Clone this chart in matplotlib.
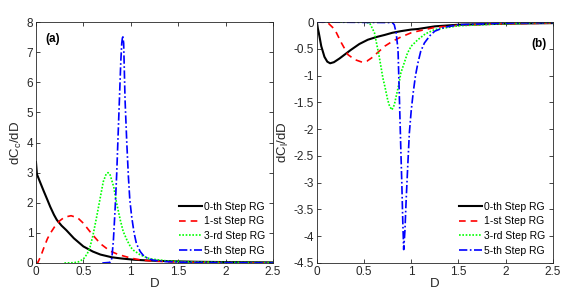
import numpy as np
import matplotlib.pyplot as plt

plt.rcParams["font.family"] = ["Liberation Sans", "DejaVu Sans"]
plt.rcParams["mathtext.default"] = "regular"

# ---- panel (a): dCc/dD ----
d0_a = [0, 0.01, 0.035, 0.08, 0.12, 0.15, 0.19, 0.22, 0.27, 0.32, 0.4, 0.5, 0.6,
        0.68, 0.8, 0.9, 1.03, 1.2, 1.4, 1.7, 2.0, 2.5]
c0_a = [3.35, 2.95, 2.75, 2.4, 2.1, 1.87, 1.6, 1.43, 1.24, 1.09, 0.82, 0.55, 0.38,
        0.28, 0.19, 0.15, 0.11, 0.08, 0.06, 0.04, 0.03, 0.02]

d1_a = [0, 0.02, 0.05, 0.08, 0.12, 0.15, 0.2, 0.25, 0.3, 0.37, 0.44, 0.5, 0.58,
        0.68, 0.78, 0.87, 0.96, 1.05, 1.13, 1.25, 1.5, 2.0, 2.5]
c1_a = [0, 0.02, 0.22, 0.48, 0.8, 0.98, 1.22, 1.4, 1.52, 1.57, 1.5, 1.32, 1.0,
        0.64, 0.4, 0.28, 0.2, 0.13, 0.09, 0.06, 0.03, 0.01, 0.0]

d3_a = [0.3, 0.4, 0.45, 0.5, 0.54, 0.57, 0.6, 0.64, 0.68, 0.71, 0.74, 0.76, 0.78,
        0.82, 0.85, 0.89, 0.92, 0.96, 1.0, 1.03, 1.1, 1.2, 1.38, 1.6, 2.0, 2.5]
c3_a = [0, 0.01, 0.04, 0.13, 0.3, 0.53, 0.9, 1.53, 2.2, 2.7, 2.95, 3.0, 2.95,
        2.53, 2.0, 1.42, 1.05, 0.76, 0.52, 0.42, 0.27, 0.14, 0.07, 0.04, 0.02, 0.01]

d5_a = [0.7, 0.78, 0.8, 0.817, 0.835, 0.852, 0.866, 0.88, 0.895, 0.905, 0.915,
        0.925, 0.94, 0.958, 0.975, 0.99, 1.01, 1.035, 1.06, 1.1, 1.13, 1.18, 1.24,
        1.35, 1.6, 2.0, 2.5]
c5_a = [0, 0.02, 0.15, 0.76, 1.8, 2.98, 4.2, 5.4, 6.7, 7.3, 7.55,
        7.3, 5.4, 4.0, 2.87, 2.1, 1.53, 1.0, 0.64, 0.38, 0.26, 0.15, 0.09,
        0.05, 0.02, 0.01, 0]

# ---- panel (b): dCl/dD ----
d0_b = [0, 0.01, 0.02, 0.046, 0.08, 0.11, 0.14, 0.18, 0.24, 0.3, 0.36, 0.45, 0.54,
        0.63, 0.72, 0.8, 0.89, 1.0, 1.07, 1.25, 1.5, 2.0, 2.5]
c0_b = [0, -0.12, -0.2, -0.45, -0.65, -0.74, -0.77, -0.75, -0.68, -0.6, -0.52, -0.41,
        -0.33, -0.28, -0.24, -0.2, -0.17, -0.14, -0.13, -0.08, -0.05, -0.03, -0.02]

d1_b = [0, 0.08, 0.12, 0.19, 0.26, 0.33, 0.4, 0.48, 0.53, 0.58, 0.65, 0.72, 0.8,
        0.89, 1.0, 1.07, 1.25, 1.5, 2.0, 2.5]
c1_b = [0, -0.005, -0.02, -0.14, -0.39, -0.61, -0.7, -0.75, -0.73, -0.67, -0.56,
        -0.45, -0.36, -0.28, -0.2, -0.17, -0.1, -0.06, -0.03, -0.02]

d3_b = [0, 0.5, 0.56, 0.61, 0.66, 0.7, 0.72, 0.75, 0.77, 0.795, 0.82, 0.84, 0.87,
        0.89, 0.93, 0.96, 1.0, 1.07, 1.15, 1.25, 1.5, 2.0, 2.5]
c3_b = [0, 0, -0.02, -0.2, -0.64, -1.05, -1.2, -1.45, -1.57, -1.64, -1.55, -1.39,
        -1.15, -0.95, -0.74, -0.58, -0.45, -0.33, -0.22, -0.14, -0.07, -0.03, -0.01]

d5_b = [0, 0.8, 0.82, 0.84, 0.86, 0.875, 0.89, 0.9, 0.91, 0.92, 0.933, 0.946, 0.96,
        0.98, 1.0, 1.02, 1.045, 1.07, 1.1, 1.14, 1.2, 1.25, 1.35, 1.5, 2.0, 2.5]
c5_b = [0, -0.01, -0.05, -0.2, -0.52, -1.45, -2.4, -3.0, -3.7, -4.25, -3.9, -3.33,
        -2.8, -2.07, -1.65, -1.33, -1.0, -0.77, -0.55, -0.39, -0.25, -0.17, -0.1,
        -0.05, -0.02, -0.01]

labels = ["0-th Step RG", "1-st Step RG", "3-rd Step RG", "5-th Step RG"]
styles = [("k", "-", 1.5), ("#ff0000", (0, (4, 3)), 1.2),
          ("#00ff00", (0, (1, 1)), 1.2), ("#0000ff", (0, (5, 1.5, 1, 1.5)), 1.2)]

fig = plt.figure(figsize=(5.71, 2.96), dpi=100)
ax_a = fig.add_axes([0.063, 0.1115, 0.415, 0.814])
ax_b = fig.add_axes([0.555, 0.1115, 0.413, 0.814])

data_a = [(d0_a, c0_a), (d1_a, c1_a), (d3_a, c3_a), (d5_a, c5_a)]
data_b = [(d0_b, c0_b), (d1_b, c1_b), (d3_b, c3_b), (d5_b, c5_b)]

for ax, data in [(ax_a, data_a), (ax_b, data_b)]:
    for (x, y), (col, ls, lw), lab in zip(data, styles, labels):
        ax.plot(x, y, color=col, linestyle=ls, linewidth=lw, label=lab)
    ax.set_xlim(0, 2.5)
    ax.set_xticks([0, 0.5, 1, 1.5, 2, 2.5])
    ax.set_xticklabels(["0", "0.5", "1", "1.5", "2", "2.5"])
    ax.set_xlabel("D", fontsize=9.5, labelpad=0, color="#262626")
    ax.tick_params(direction="in", top=True, right=True, labelsize=8.5,
                   length=3, width=0.6, colors="#262626", pad=2)
    for s in ax.spines.values():
        s.set_color("#262626")
        s.set_linewidth(0.6)
    ax.legend(loc="lower right", frameon=False, fontsize=7.5,
              handlelength=2.2, handletextpad=0.2, labelspacing=0.45,
              borderaxespad=0.3)

ax_a.set_ylim(0, 8)
ax_a.set_yticks(range(0, 9))
ax_a.set_ylabel("dC$_c$/dD", fontsize=9.5, labelpad=2, color="#262626")
ax_a.text(0.04, 0.955, "(a)", transform=ax_a.transAxes, fontsize=8.5,
          fontweight="bold", va="top", ha="left")

ax_b.set_ylim(-4.5, 0)
yt = np.arange(-4.5, 0.01, 0.5)
ax_b.set_yticks(yt)
ax_b.set_yticklabels(["%g" % v if v != 0 else "0" for v in yt])
ax_b.set_ylabel("dC$_l$/dD", fontsize=9.5, labelpad=2, color="#262626")
ax_b.text(0.975, 0.935, "(b)", transform=ax_b.transAxes, fontsize=8.5,
          fontweight="bold", va="top", ha="right")

fig.savefig("out.png", dpi=100)
